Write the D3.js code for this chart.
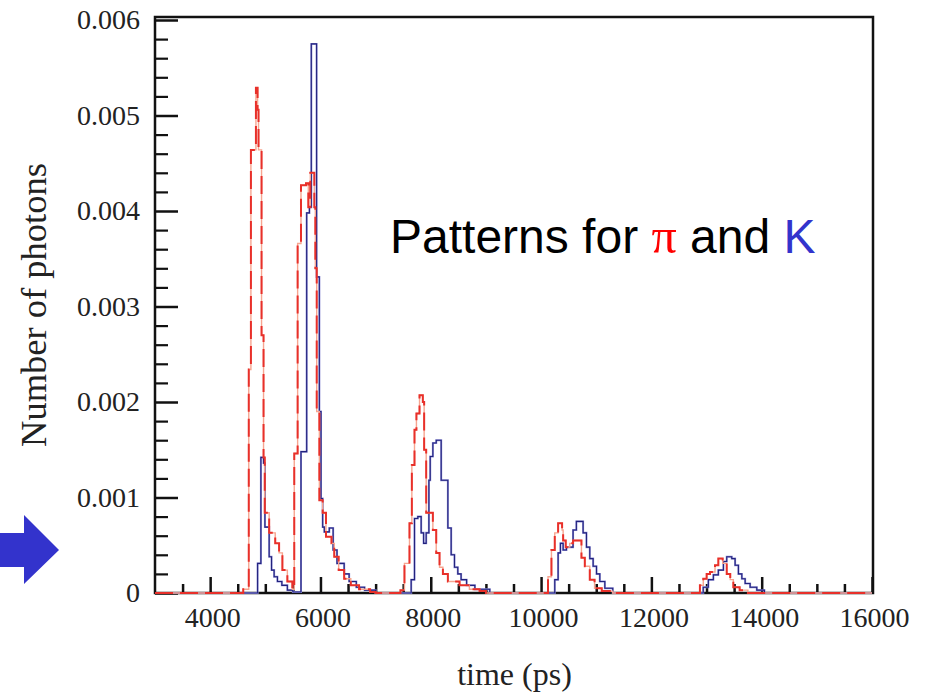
<!DOCTYPE html>
<html>
<head>
<meta charset="utf-8">
<script src="https://cdn.jsdelivr.net/npm/d3@7"></script>
<style>
  html, body { margin: 0; padding: 0; background: #fff; }
  svg { display: block; }
</style>
</head>
<body>
<svg id="chart" width="926" height="694"></svg>
<script>
// ---- data ----
const xTickLabels = [4000, 6000, 8000, 10000, 12000, 14000, 16000];
const yTickLabels = [0, 0.001, 0.002, 0.003, 0.004, 0.005, 0.006];

// K (blue, solid) histogram: bin edge times (ps) and level from that edge on
const kTimes = [3000, 4860, 4920, 4968, 4993, 5070, 5113, 5160, 5220, 5300, 5400, 5500,
  5647, 5750, 5800, 5834, 5930, 5980, 6010, 6040, 6070, 6160, 6230, 6300, 6430, 6520, 6650, 6800, 7000,
  7645, 7705, 7765, 7826, 7870, 7917, 7966, 7990, 8038, 8099, 8189, 8310, 8370, 8430, 8490, 8550, 8650, 8800, 9070,
  10248, 10309, 10351, 10400, 10460, 10580, 10640, 10762, 10823, 10883, 10944, 11005, 11065, 11156, 11300,
  12940, 13033, 13124, 13214, 13306, 13366, 13457, 13518, 13578, 13640, 13700, 13790, 13911, 14050];
const kValues = [0, 0.00031, 0.00142, 0.00136, 0.00069, 0.00038, 0.00024, 0.00017, 0.00012, 0.00008, 0.00003, 0.00001,
  0.00148, 0.00398, 0.00404, 0.00575, 0.00331, 0.00190, 0.00099, 0.00069, 0.00064, 0.00068, 0.00045, 0.00031, 0.00020, 0.00012, 0.00006, 0.00003, 0,
  0.00014, 0.00078, 0.00080, 0.00063, 0.00052, 0.00063, 0.00118, 0.00143, 0.00157, 0.00160, 0.00118, 0.00068, 0.00040, 0.00027, 0.00020, 0.00014, 0.00008, 0.00004, 0,
  0.00014, 0.00042, 0.00052, 0.00045, 0.00048, 0.00066, 0.00075, 0.00063, 0.00048, 0.00036, 0.00028, 0.00020, 0.00012, 0.00005, 0,
  0.00006, 0.00014, 0.00019, 0.00024, 0.00033, 0.00038, 0.00036, 0.00029, 0.00020, 0.00015, 0.00010, 0.00006, 0.00003, 0];

// pi (red, dashed) histogram
const piTimes = [3000, 4600, 4700, 4739, 4830, 4860, 4877, 4932, 4968, 4990, 5070, 5180, 5250, 5310, 5400, 5490,
  5525, 5586, 5647, 5738, 5780, 5816, 5889, 5907, 5932, 5980, 6040, 6100, 6200, 6250, 6330, 6430, 6550, 6700, 6900, 7000,
  7450, 7523, 7614, 7657, 7705, 7740, 7796, 7856, 7880, 7917, 8038, 8099, 8159, 8220, 8310, 8522, 8700, 8885, 9000,
  10126, 10188, 10248, 10309, 10381, 10400, 10447, 10520, 10580, 10732, 10793, 10883, 10970, 11100, 11300,
  12880, 12941, 13002, 13063, 13154, 13214, 13293, 13366, 13430, 13486, 13600, 13750];
const piValues = [0, 0.00004, 0.00234, 0.00464, 0.00529, 0.00506, 0.00464, 0.00270, 0.00142, 0.00084, 0.00063, 0.00052, 0.00042, 0.00024, 0.00012, 0.00004,
  0.00146, 0.00366, 0.00427, 0.00429, 0.00404, 0.00440, 0.00404, 0.00340, 0.00190, 0.00097, 0.00084, 0.00059, 0.00052, 0.00038, 0.00024, 0.00015, 0.00008, 0.00004, 0.00001, 0,
  0.00003, 0.00031, 0.00073, 0.00134, 0.00171, 0.00188, 0.00207, 0.00200, 0.00150, 0.00084, 0.00066, 0.00042, 0.00027, 0.00020, 0.00012, 0.00008, 0.00004, 0.00002, 0,
  0.00017, 0.00045, 0.00063, 0.00073, 0.00066, 0.00055, 0.00048, 0.00052, 0.00055, 0.00037, 0.00028, 0.00014, 0.00005, 0.00002, 0,
  0.00008, 0.00015, 0.00020, 0.00022, 0.00029, 0.00036, 0.00031, 0.00020, 0.00014, 0.00006, 0.00003, 0];

const xDomain = [3000, 16000];
const yDomain = [0, 0.006];

// ---- drawing ----
const svg = d3.select("#chart");
const mLeft = 155, mRight = 872, mTop = 17, mBottom = 593;

const x = d3.scaleLinear().domain(xDomain).range([mLeft, mRight]);
const y = d3.scaleLinear().domain(yDomain).range([mBottom, 20]);

const serif = "'Liberation Serif', 'Times New Roman', serif";

// frame
svg.append("rect")
  .attr("x", mLeft).attr("y", mTop)
  .attr("width", mRight - mLeft + 1).attr("height", mBottom - mTop)
  .attr("fill", "none").attr("stroke", "#111").attr("stroke-width", 2.5);

// minor ticks x
const xMinor = d3.range(3500, 16000, 500).filter(v => v % 2000 !== 0);
svg.append("g").attr("transform", `translate(0,${mBottom})`)
  .call(d3.axisBottom(x).tickValues(xMinor).tickSize(-9).tickFormat(""))
  .call(g => g.select(".domain").remove())
  .call(g => g.selectAll("line").attr("stroke", "#111").attr("stroke-width", 2.5));

// major ticks x + labels
svg.append("g").attr("transform", `translate(0,${mBottom})`)
  .call(d3.axisBottom(x).tickValues(xTickLabels).tickSize(-16).tickPadding(14).tickFormat(d3.format("d")))
  .call(g => g.select(".domain").remove())
  .call(g => g.selectAll("line").attr("stroke", "#111").attr("stroke-width", 2.5))
  .call(g => g.selectAll("text").attr("font-family", serif).attr("font-size", 28).attr("fill", "#222")
    .attr("dx", 2));

// minor ticks y
const yMinor = d3.range(1, 30).map(i => i * 0.0002).filter((v, i) => (i + 1) % 5 !== 0);
svg.append("g").attr("transform", `translate(${mLeft},0)`)
  .call(d3.axisLeft(y).tickValues(yMinor).tickSize(-13).tickFormat(""))
  .call(g => g.select(".domain").remove())
  .call(g => g.selectAll("line").attr("stroke", "#111").attr("stroke-width", 2.2));

// major ticks y + labels
svg.append("g").attr("transform", `translate(${mLeft},0)`)
  .call(d3.axisLeft(y).tickValues(yTickLabels).tickSize(-23).tickPadding(15)
    .tickFormat(d => d === 0 ? "0" : d3.format(".3f")(d)))
  .call(g => g.select(".domain").remove())
  .call(g => g.selectAll("line").attr("stroke", "#111").attr("stroke-width", 2.5))
  .call(g => g.selectAll("text").attr("font-family", serif).attr("font-size", 28).attr("fill", "#222"));

// histogram lines
function stepPoints(times, values) {
  const pts = times.map((t, i) => [t, values[i]]);
  pts.push([xDomain[1], values[values.length - 1]]);
  return pts;
}
const line = d3.line().x(d => x(d[0])).y(d => y(d[1])).curve(d3.curveStepAfter);

const kPts = stepPoints(kTimes, kValues);
const piPts = stepPoints(piTimes, piValues);

svg.append("path").datum(kPts).attr("d", line)
  .attr("fill", "none").attr("stroke", "#9090d4").attr("stroke-width", 2);
svg.append("path").datum(kPts).attr("d", line)
  .attr("fill", "none").attr("stroke", "#22227e").attr("stroke-width", 1.1);

svg.append("path").datum(piPts).attr("d", line)
  .attr("fill", "none").attr("stroke", "#f7a590").attr("stroke-width", 1.4);
svg.append("path").datum(piPts).attr("d", line)
  .attr("fill", "none").attr("stroke", "#e8302a").attr("stroke-width", 2)
  .attr("stroke-dasharray", "18,7");

// axis titles
svg.append("text")
  .attr("x", (mLeft + mRight) / 2 + 1).attr("y", 685)
  .attr("text-anchor", "middle")
  .attr("font-family", serif).attr("font-size", 32).attr("fill", "#222")
  .text("time (ps)");

svg.append("text")
  .attr("transform", `translate(46,${(mTop + mBottom) / 2}) rotate(-90)`)
  .attr("text-anchor", "middle")
  .attr("font-family", serif).attr("font-size", 36.5).attr("fill", "#222")
  .text("Number of photons");

// annotation
const ann = svg.append("text")
  .attr("x", 390).attr("y", 253)
  .attr("font-family", "'Liberation Sans', Arial, sans-serif")
  .attr("font-size", 48).attr("fill", "#000");
ann.append("tspan").text("Patterns for ");
ann.append("tspan").attr("fill", "#ff0000").attr("font-family", serif).attr("font-size", 50).text("π");
ann.append("tspan").text(" and ");
ann.append("tspan").attr("fill", "#3333cc").text("K");

// arrow
svg.append("path")
  .attr("d", "M0,533 L24,533 L24,515 L59,550 L24,584 L24,567 L0,567 Z")
  .attr("fill", "#3333cc");
</script>
</body>
</html>
